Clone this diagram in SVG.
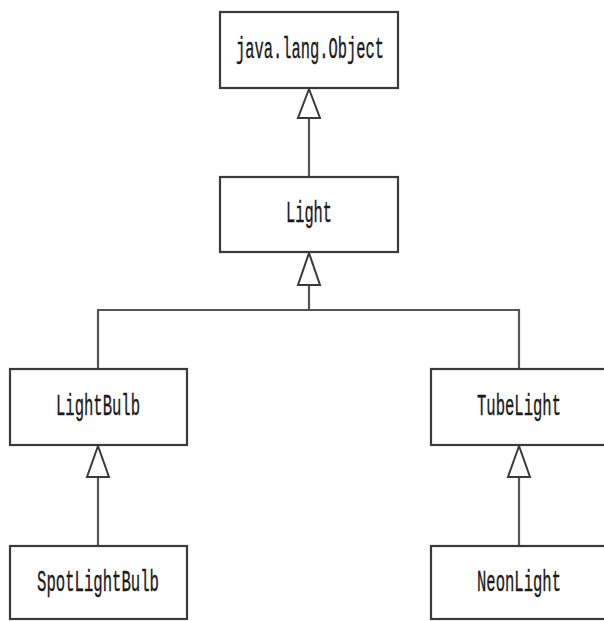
<svg xmlns="http://www.w3.org/2000/svg" width="604" height="621" viewBox="0 0 604 621">
<style>
.box{fill:#fff;stroke:#3a3a3a;stroke-width:2.2}
.lbl{font-family:"Liberation Mono","DejaVu Sans Mono",monospace;font-size:29px;fill:#1a1a1a;text-anchor:middle;stroke:#1a1a1a;stroke-width:0.4}
.ln{fill:none;stroke:#555;stroke-width:2.2}
.tri{fill:#fff;stroke:#3a3a3a;stroke-width:2}
</style>
<rect width="604" height="621" fill="#fff"/>
<g id="connectors">
<line class="ln" x1="309" y1="118" x2="309" y2="177"/>
<polyline class="ln" points="309,285 309,310 98,310 98,369"/>
<polyline class="ln" points="309,310 519,310 519,369"/>
<line class="ln" x1="98" y1="477" x2="98" y2="546"/>
<line class="ln" x1="519" y1="477" x2="519" y2="546"/>
<polygon class="tri" points="309,89 298,118 320,118"/>
<polygon class="tri" points="309,253 298,285 320,285"/>
<polygon class="tri" points="98,446 87,477 109,477"/>
<polygon class="tri" points="519,446 508,477 530,477"/>
</g>
<g id="object">
<rect class="box" x="220" y="12" width="178" height="76"/>
<text class="lbl" x="310" y="58" textLength="148" lengthAdjust="spacingAndGlyphs">java.lang.Object</text>
</g>
<g id="light">
<rect class="box" x="220" y="177" width="178" height="75"/>
<text class="lbl" x="309" y="222" textLength="46" lengthAdjust="spacingAndGlyphs">Light</text>
</g>
<g id="lightbulb">
<rect class="box" x="10" y="369" width="177" height="76"/>
<text class="lbl" x="98" y="415" textLength="84" lengthAdjust="spacingAndGlyphs">LightBulb</text>
</g>
<g id="tubelight">
<rect class="box" x="431" y="369" width="177" height="76"/>
<text class="lbl" x="519" y="415" textLength="84" lengthAdjust="spacingAndGlyphs">TubeLight</text>
</g>
<g id="spotlightbulb">
<rect class="box" x="10" y="546" width="177" height="73"/>
<text class="lbl" x="98" y="591" textLength="122" lengthAdjust="spacingAndGlyphs">SpotLightBulb</text>
</g>
<g id="neonlight">
<rect class="box" x="431" y="546" width="177" height="73"/>
<text class="lbl" x="519" y="591" textLength="84" lengthAdjust="spacingAndGlyphs">NeonLight</text>
</g>
</svg>
